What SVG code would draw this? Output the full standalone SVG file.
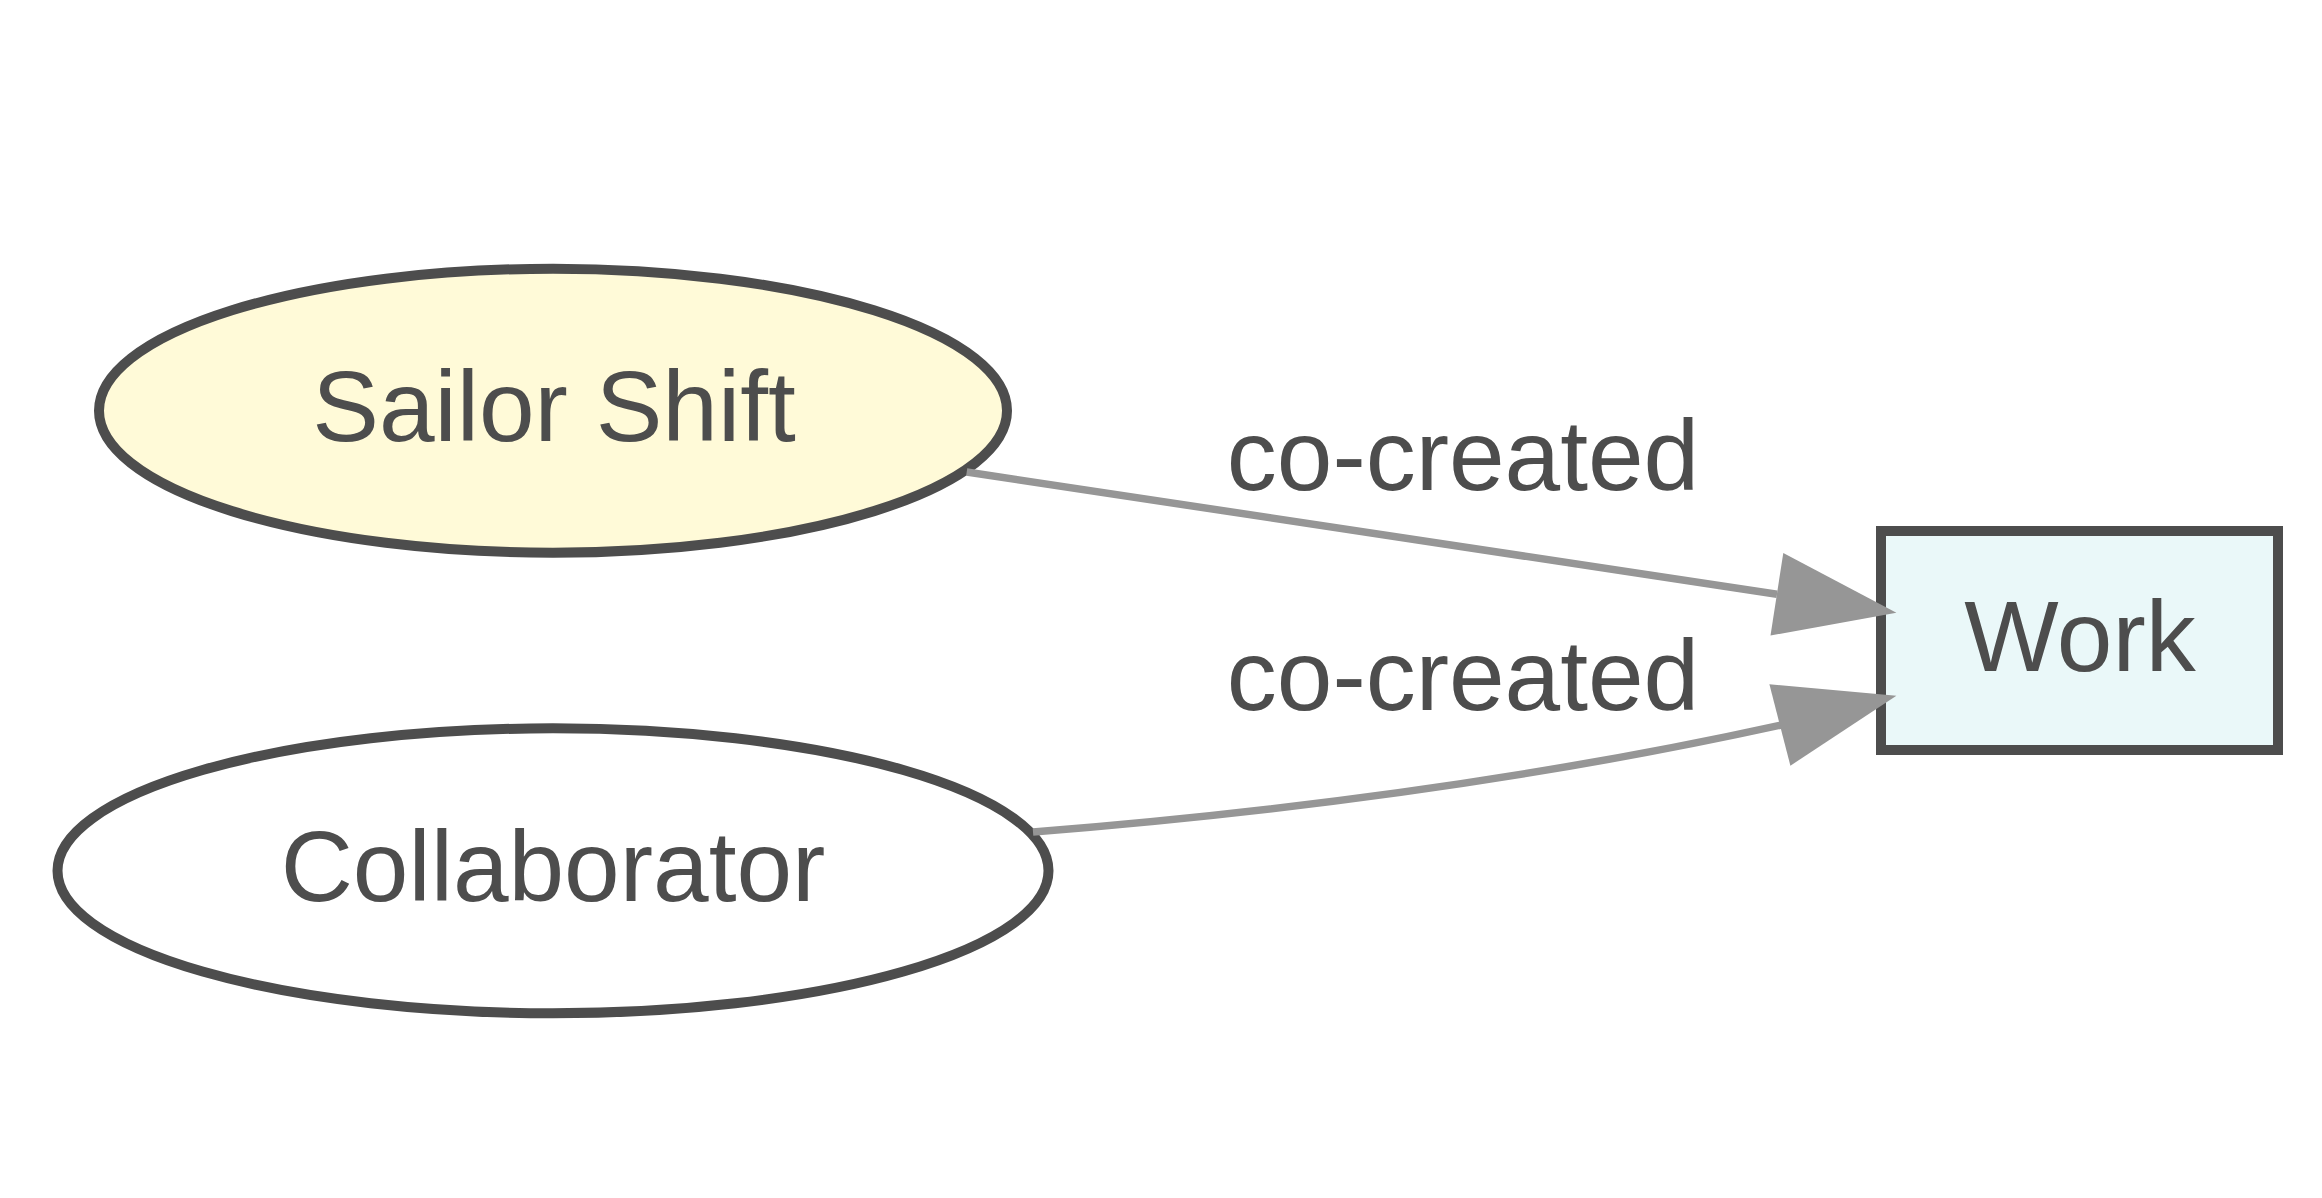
<svg xmlns="http://www.w3.org/2000/svg" width="2322" height="1198" viewBox="0 0 2322 1198">
<style>
  .node { stroke: #4d4d4d; stroke-width: 10; }
  .lbl { font-family: "Liberation Sans", Arial, Helvetica, sans-serif; font-size: 100px; fill: #4d4d4d; text-anchor: middle; }
  .edge { fill: none; stroke: #969696; stroke-width: 7.5; }
  .head { fill: #969696; stroke: none; }
</style>
<rect x="0" y="0" width="2322" height="1198" fill="#ffffff"/>
<g id="node-sailor">
  <ellipse class="node" cx="553" cy="410.7" rx="454" ry="142" fill="#fffad8"/>
  <text class="lbl" x="554" y="441">Sailor Shift</text>
</g>
<g id="node-collaborator">
  <ellipse class="node" cx="553" cy="870.8" rx="495.5" ry="142.5" fill="#ffffff"/>
  <text class="lbl" x="553" y="901">Collaborator</text>
</g>
<g id="node-work">
  <rect class="node" x="1881" y="531" width="397" height="219" fill="#eaf8f9"/>
  <text class="lbl" x="2080" y="671">Work</text>
</g>
<g id="connectors">
  <g id="edge-sailor-work">
    <path class="edge" d="M966.7,472 L1777,594.2"/>
    <polygon class="head" points="1896.4,612.7 1783.3,552.9 1770.5,635.5"/>
    <text class="lbl" x="1463" y="490">co-created</text>
  </g>
  <g id="edge-collab-work">
    <path class="edge" d="M1033,832 C1283,812 1531,780 1781,725"/>
    <polygon class="head" points="1896.4,695.7 1769.4,684.3 1790.4,765.7"/>
    <text class="lbl" x="1463" y="710">co-created</text>
  </g>
</g>
</svg>
